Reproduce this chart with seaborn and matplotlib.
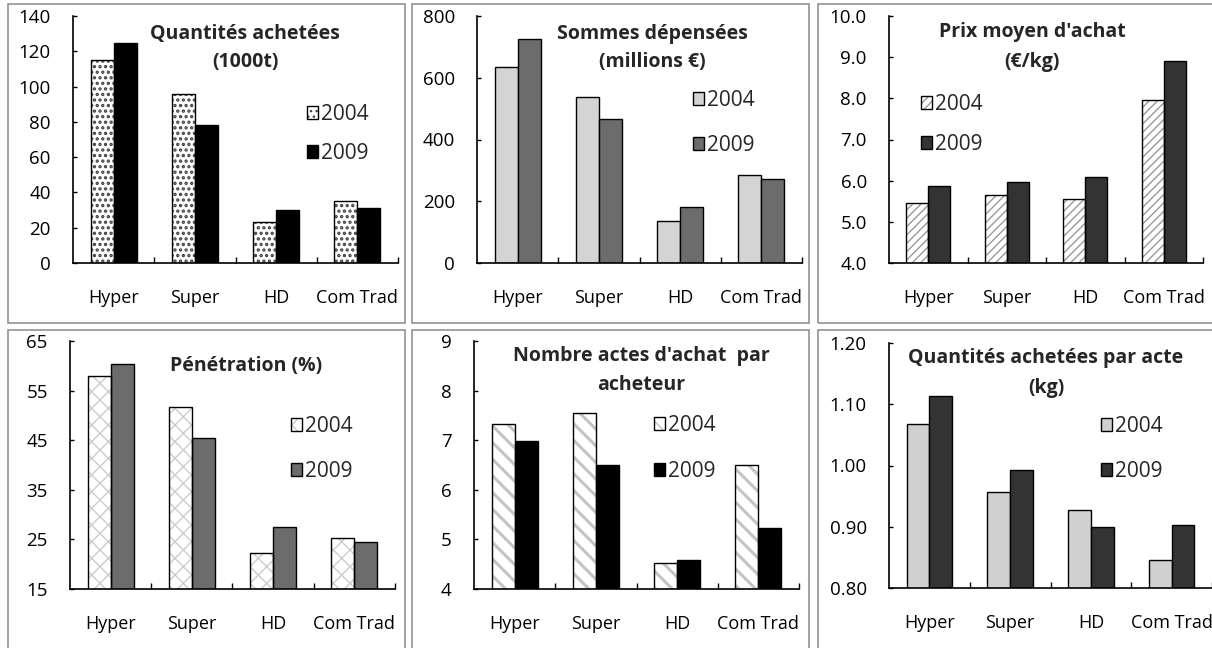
import pandas as pd
import seaborn as sns
import matplotlib.pyplot as plt
from matplotlib.patches import Patch, Rectangle
from matplotlib.legend_handler import HandlerTuple
from matplotlib.ticker import FixedLocator, FormatStrFormatter

# données
circuits = ['Hyper', 'Super', 'HD', 'Com Trad']
annees = ['2004', '2009']

quantites_2004 = [115, 96, 23.5, 35]
quantites_2009 = [124.5, 78.5, 30, 31]
sommes_2004 = [635, 538, 135, 286]
sommes_2009 = [725, 467, 182, 273]
prix_2004 = [5.46, 5.64, 5.55, 7.95]
prix_2009 = [5.87, 5.96, 6.09, 8.90]
penetration_2004 = [57.9, 51.6, 22.2, 25.2]
penetration_2009 = [60.3, 45.5, 27.5, 24.5]
actes_2004 = [7.32, 7.55, 4.53, 6.49]
actes_2009 = [6.99, 6.50, 4.58, 5.22]
qte_acte_2004 = [1.068, 0.957, 0.927, 0.845]
qte_acte_2009 = [1.113, 0.992, 0.900, 0.903]

sns.set_theme(style='white')
plt.rcParams['font.family'] = ['Open Sans', 'DejaVu Sans']
plt.rcParams['hatch.linewidth'] = 1.0

W, H = 1212, 648
fig = plt.figure(figsize=(W / 100, H / 100), dpi=100)


def fx(x):
    return x / W


def fy(y):
    return 1 - y / H


# cadres des graphiques
for (x0, y0, x1, y1) in [(8, 4, 405, 323), (412, 4, 809, 323), (818, 4, 1214, 323),
                         (8, 330, 405, 652), (412, 330, 809, 652), (818, 330, 1214, 652)]:
    fig.patches.append(Rectangle((fx(x0), fy(y1)), fx(x1 - x0), (y1 - y0) / H,
                                 transform=fig.transFigure, fill=False,
                                 ec='#8a8a8a', lw=1.1))

panneaux = [
    dict(v04=quantites_2004, v09=quantites_2009, titre='Quantités achetées\n(1000t)',
         box=(73, 16, 398, 263), ylim=(0, 140), step=20, fmt='%d',
         c04='white', c09='black', hatch='...', hcol='#444444', hlw=1.6,
         tpos=(245, 48), leg=(307, 112, 156)),
    dict(v04=sommes_2004, v09=sommes_2009, titre='Sommes dépensées\n(millions €)',
         box=(477, 16, 802, 263), ylim=(0, 800), step=200, fmt='%d',
         c04='#d4d4d4', c09='#6c6c6c', hatch=None, hcol=None, hlw=1.0,
         tpos=(652, 48), leg=(693, 98, 148)),
    dict(v04=prix_2004, v09=prix_2009, titre="Prix moyen d'achat\n(€/kg)",
         box=(889, 16, 1203, 263), ylim=(4, 10), step=1, fmt='%.1f',
         c04='white', c09='#333333', hatch='////', hcol='#9a9a9a', hlw=1.0,
         tpos=(1032, 47), leg=(921, 102, 147)),
    dict(v04=penetration_2004, v09=penetration_2009, titre='Pénétration (%)',
         box=(70, 341, 395, 589), ylim=(15, 65), step=10, fmt='%d',
         c04='white', c09='#6c6c6c', hatch='xx', hcol='#cccccc', hlw=1.0,
         tpos=(246, 366), leg=(291, 424, 474)),
    dict(v04=actes_2004, v09=actes_2009, titre="Nombre actes d'achat  par\nacheteur",
         box=(474, 341, 799, 589), ylim=(4, 9), step=1, fmt='%d',
         c04='white', c09='black', hatch='\\\\', hcol='#c4c4c4', hlw=2.2,
         tpos=(641, 371), leg=(654, 423, 474)),
    dict(v04=qte_acte_2004, v09=qte_acte_2009, titre='Quantités achetées par acte\n(kg)',
         box=(889, 343, 1212, 588), ylim=(0.8, 1.2), step=0.1, fmt='%.2f',
         c04='#d0d0d0', c09='#333333', hatch=None, hcol=None, hlw=1.0,
         tpos=(1046, 373), leg=(1101, 424, 474)),
]

for p in panneaux:
    x0, y0, x1, y1 = p['box']
    ax = fig.add_axes([fx(x0), fy(y1), fx(x1 - x0), (y1 - y0) / H])
    ax.patch.set_alpha(0)

    df = pd.DataFrame({
        'circuit': circuits * 2,
        'annee': [annees[0]] * 4 + [annees[1]] * 4,
        'valeur': list(p['v04']) + list(p['v09']),
    })
    sns.barplot(data=df, x='circuit', y='valeur', hue='annee',
                palette=[p['c04'], p['c09']], saturation=1, width=0.565,
                edgecolor='black', linewidth=1.0, errorbar=None,
                legend=False, ax=ax)

    # hachures de 2004 : motif gris, contour noir par-dessus
    if p['hatch']:
        for bar in ax.containers[0]:
            bar.set_hatch(p['hatch'])
            bar.set_edgecolor(p['hcol'])
            bar.set_linewidth(0)
            if hasattr(bar, 'set_hatch_linewidth'):
                bar.set_hatch_linewidth(p['hlw'])
            ax.add_patch(Rectangle(bar.get_xy(), bar.get_width(), bar.get_height(),
                                   fill=False, ec='black', lw=1.0))

    lo, hi = p['ylim']
    ax.set_ylim(lo, hi)
    n = int(round((hi - lo) / p['step']))
    ax.yaxis.set_major_locator(FixedLocator([lo + i * p['step'] for i in range(n + 1)]))
    ax.yaxis.set_major_formatter(FormatStrFormatter(p['fmt']))
    ax.set_xlim(-0.5, 3.5)
    ax.xaxis.set_minor_locator(FixedLocator([0.5, 1.5, 2.5, 3.5]))
    ax.set_xlabel('')
    ax.set_ylabel('')

    sns.despine(ax=ax)
    for s in ['left', 'bottom']:
        ax.spines[s].set_color('black')
        ax.spines[s].set_linewidth(1.2)
    ax.tick_params(axis='y', which='major', direction='in', length=3, width=1,
                   color='black', pad=16, labelsize=13.5, labelcolor='black', left=True)
    ax.tick_params(axis='x', which='major', length=0, pad=18.5, labelsize=13,
                   labelcolor='black')
    ax.tick_params(axis='x', which='minor', direction='in', length=4, width=1,
                   color='black', bottom=True)

    tx, ty = p['tpos']
    fig.text(fx(tx), fy(ty), p['titre'], ha='center', va='center',
             fontsize=14, fontweight='bold', linespacing=1.6)

    handles = []
    for c, h, hc, hl in [(p['c04'], p['hatch'], p['hcol'], p['hlw']), (p['c09'], None, None, 1.0)]:
        if h:
            hp = Patch(fc=c, hatch=h, ec=hc, lw=0)
            if hasattr(hp, 'set_hatch_linewidth'):
                hp.set_hatch_linewidth(hl)
            handles.append((hp, Patch(fill=False, ec='black', lw=1.0)))
        else:
            handles.append(Patch(fc=c, ec='black', lw=1.0))
    lx, ly1, ly2 = p['leg']
    dy = ly2 - ly1
    ax.legend(handles, annees, loc='center left',
              bbox_to_anchor=(fx(lx), fy((ly1 + ly2) / 2)),
              bbox_transform=fig.transFigure, frameon=False, fontsize=15,
              handlelength=0.55, handleheight=0.55, handletextpad=0.1,
              borderpad=0, borderaxespad=0, labelspacing=(dy - 26) / 20.8,
              handler_map={tuple: HandlerTuple(ndivide=1)})

fig.savefig('out.png', dpi=100)
